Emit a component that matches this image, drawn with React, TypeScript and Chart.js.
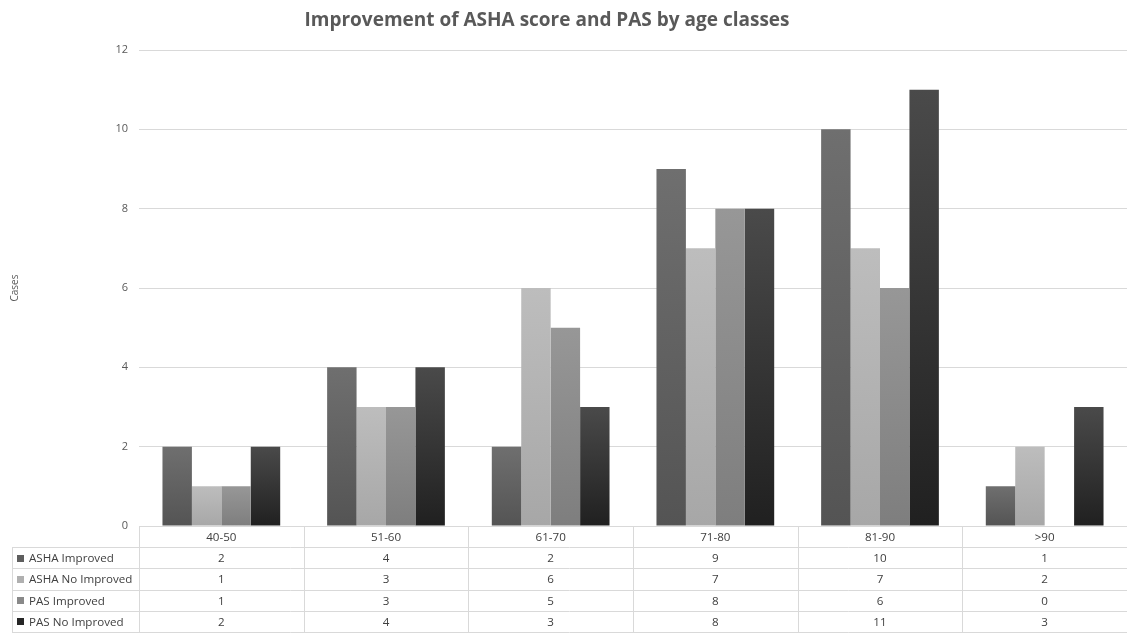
import React, { useEffect, useRef } from "react";
import { Chart, registerables } from "chart.js";

Chart.register(...registerables);

const ageClasses = ["40-50", "51-60", "61-70", "71-80", "81-90", ">90"];
const ashaImproved = [2, 4, 2, 9, 10, 1];
const ashaNoImproved = [1, 3, 6, 7, 7, 2];
const pasImproved = [1, 3, 5, 8, 6, 0];
const pasNoImproved = [2, 4, 3, 8, 11, 3];
const yTicks = [0, 2, 4, 6, 8, 10, 12];

const seriesNames = ["ASHA Improved", "ASHA No Improved", "PAS Improved", "PAS No Improved"];
const seriesValues = [ashaImproved, ashaNoImproved, pasImproved, pasNoImproved];
// [top, bottom] shade of each series' bar gradient
const seriesShades: [string, string][] = [
  ["#6f6f6f", "#545454"],
  ["#bdbdbd", "#a7a7a7"],
  ["#979797", "#7e7e7e"],
  ["#4a4a4a", "#202020"],
];
const keyColors = ["#5e5e5e", "#b0b0b0", "#898989", "#262626"];

const TEXT_FONT = '"Open Sans", "Noto Sans", sans-serif';
const GRID = "#d9d9d9";

const tablePlugin = {
  id: "dataTable",
  afterDraw(chart: any) {
    const { ctx, chartArea } = chart;
    const x = chart.scales.x;
    const n = ageClasses.length;
    const colW = (chartArea.right - chartArea.left) / n;
    const rowH = 21.2;
    const top = chartArea.bottom;
    const rows = seriesNames.length + 1;
    const bottom = top + rowH * rows;
    const tableLeft = 12;

    ctx.save();
    ctx.strokeStyle = GRID;
    ctx.lineWidth = 1;
    // horizontal rules
    for (let r = 1; r <= rows; r++) {
      const y = Math.round(top + rowH * r) + 0.5;
      ctx.beginPath();
      ctx.moveTo(tableLeft, y);
      ctx.lineTo(chartArea.right, y);
      ctx.stroke();
    }
    // left border of the legend column
    ctx.beginPath();
    ctx.moveTo(tableLeft + 0.5, Math.round(top + rowH));
    ctx.lineTo(tableLeft + 0.5, Math.round(bottom) + 0.5);
    ctx.stroke();
    // column separators
    for (let c = 0; c < n; c++) {
      const xl = Math.round(chartArea.left + colW * c) + 0.5;
      ctx.beginPath();
      ctx.moveTo(xl, top);
      ctx.lineTo(xl, Math.round(bottom) + 0.5);
      ctx.stroke();
    }

    ctx.font = `11.6px ${TEXT_FONT}`;
    ctx.fillStyle = "#404040";
    ctx.textBaseline = "middle";
    ctx.textAlign = "center";
    ageClasses.forEach((label, i) => {
      ctx.fillText(label, x.getPixelForValue(i), top + rowH * 0.5 + 1);
    });
    seriesNames.forEach((name, s) => {
      const cy = top + rowH * (s + 1.5) + 1;
      ctx.fillStyle = keyColors[s];
      ctx.fillRect(17, Math.round(cy - 4), 7, 7);
      ctx.fillStyle = "#404040";
      ctx.textAlign = "left";
      ctx.fillText(name, 29, cy);
      ctx.textAlign = "center";
      seriesValues[s].forEach((v, i) => {
        ctx.fillText(String(v), x.getPixelForValue(i), cy);
      });
    });

    // chart title
    ctx.font = `bold 19px ${TEXT_FONT}`;
    ctx.fillStyle = "#595959";
    ctx.textAlign = "center";
    ctx.textBaseline = "middle";
    ctx.fillText("Improvement of ASHA score and PAS by age classes", 547, 21);

    // axis title
    ctx.font = `10px ${TEXT_FONT}`;
    ctx.fillStyle = "#595959";
    ctx.translate(15, (chartArea.top + chartArea.bottom) / 2);
    ctx.rotate(-Math.PI / 2);
    ctx.fillText("Cases", 0, 0);
    ctx.restore();
  },
};

function barGradient(s: number) {
  return (context: any) => {
    const chart = context.chart;
    const y = chart.scales?.y;
    if (!chart.chartArea || !y || context.type !== "data") return seriesShades[s][1];
    const v = context.raw as number;
    const y0 = y.getPixelForValue(0);
    const y1 = y.getPixelForValue(v);
    if (!isFinite(y0) || !isFinite(y1) || y0 === y1) return seriesShades[s][1];
    const g = chart.ctx.createLinearGradient(0, y1, 0, y0);
    g.addColorStop(0, seriesShades[s][0]);
    g.addColorStop(1, seriesShades[s][1]);
    return g;
  };
}

export default function App() {
  const canvasRef = useRef<HTMLCanvasElement | null>(null);

  useEffect(() => {
    document.body.style.margin = "0";
    const canvas = canvasRef.current;
    if (!canvas) return;
    const chart = new Chart(canvas, {
      type: "bar",
      data: {
        labels: ageClasses,
        datasets: seriesNames.map((name, s) => ({
          label: name,
          data: seriesValues[s],
          backgroundColor: barGradient(s),
          borderWidth: 0,
          barPercentage: 1,
          categoryPercentage: 0.715,
        })),
      },
      options: {
        animation: false,
        responsive: false,
        devicePixelRatio: 1,
        layout: { padding: { left: 0, right: 0, top: 50, bottom: 112 } },
        plugins: {
          legend: { display: false },
          title: { display: false },
          tooltip: { enabled: false },
        },
        scales: {
          x: {
            grid: { display: false, drawTicks: false },
            border: { display: false },
            ticks: { display: false },
            afterFit: (s: any) => {
              s.height = 0;
            },
          },
          y: {
            min: 0,
            max: 12,
            afterBuildTicks: (s: any) => {
              s.ticks = yTicks.map((v) => ({ value: v }));
            },
            grid: { color: GRID, drawTicks: false },
            border: { display: false },
            ticks: {
              padding: 11,
              color: "#595959",
              font: { family: TEXT_FONT, size: 11 },
            },
            afterFit: (s: any) => {
              s.width = 139;
            },
          },
        },
      },
      plugins: [tablePlugin],
    });
    return () => chart.destroy();
  }, []);

  return <canvas ref={canvasRef} width={1127} height={638} style={{ display: "block" }} />;
}
